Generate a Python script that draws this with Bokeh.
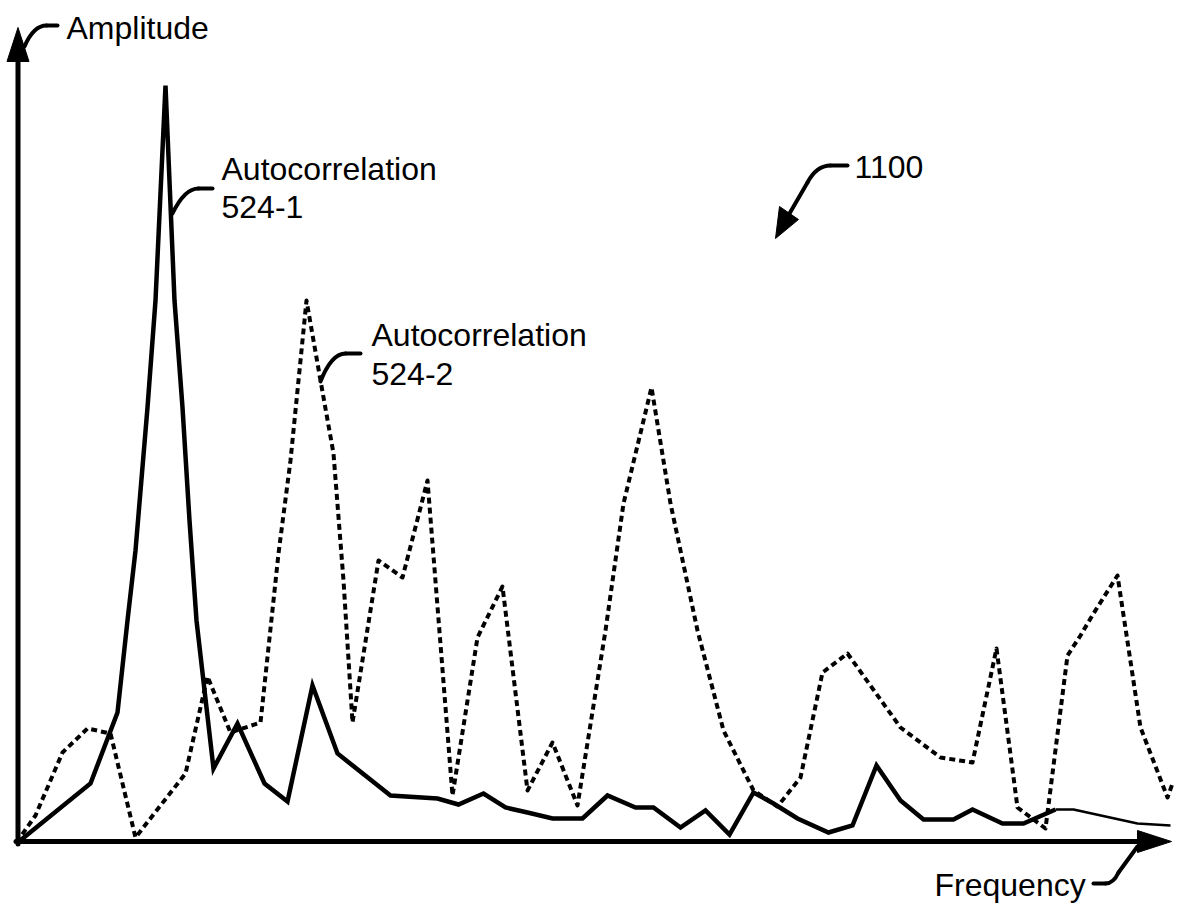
from bokeh.plotting import figure
from bokeh.models import Range1d, Label
from bokeh.embed import file_html
from bokeh.resources import INLINE

# ---- data (frequency index, amplitude) ----
freq_1 = [0, 74, 101, 111, 119, 131, 139, 149, 158, 166, 173, 180, 197, 221, 248, 271,
          296, 321, 374, 421, 442, 467, 489, 511, 536, 566, 591, 619, 637, 664, 689, 713,
          737, 757, 781, 812, 836, 860, 884, 907, 937, 956, 986, 1007, 1039, 1057, 1121, 1154]
amp_1 = [0, 60, 131, 223, 293, 436, 543, 758, 543, 436, 323, 223, 75, 120, 60, 42,
         158, 90, 48, 45, 39, 50, 36, 31, 25, 25, 48, 36, 36, 16, 33, 9,
         51, 40, 25, 11, 18, 78, 43, 24, 24, 34, 20, 20, 34, 34, 20, 18]

freq_2 = [0, 19, 46, 71, 94, 119, 169, 191, 214, 244, 262, 274, 290, 304, 317, 327,
          336, 362, 386, 411, 436, 461, 486, 511, 536, 561, 589, 607, 635, 654, 681, 707,
          737, 761, 784, 806, 831, 884, 924, 956, 980, 1001, 1029, 1051, 1064, 1077, 1101,
          1124, 1151, 1156]
amp_2 = [1, 28, 91, 115, 110, 6, 70, 167, 111, 121, 290, 383, 543, 463, 390, 263,
         121, 283, 266, 363, 48, 206, 257, 53, 101, 38, 213, 340, 456, 340, 213, 113,
         53, 37, 66, 171, 190, 116, 86, 81, 195, 36, 15, 188, 208, 230, 268,
         116, 46, 60]

labels = {
    "amp": "Amplitude",
    "freq": "Frequency",
    "ac1": ["Autocorrelation", "524-1"],
    "ac2": ["Autocorrelation", "524-2"],
    "fig": "1100",
}

W, H = 1181, 905
p = figure(width=W, height=H, output_backend="svg", toolbar_location=None,
           x_range=Range1d(-16, W - 16), y_range=Range1d(843 - H, 843),
           min_border=0, background_fill_color="white", border_fill_color="white")
p.axis.visible = False
p.grid.visible = False
p.outline_line_color = None


def S(x, y):
    """picture pixel position -> data coordinates (decorations only)"""
    return x - 16, 843 - y


def seg(a, b, w=4):
    (x0, y0), (x1, y1) = S(*a), S(*b)
    p.segment(x0=[x0], y0=[y0], x1=[x1], y1=[y1], line_color="black", line_width=w,
              line_cap="round")


def quad(a, c, b, w=4):
    (x0, y0), (cx, cy), (x1, y1) = S(*a), S(*c), S(*b)
    p.quadratic(x0=[x0], y0=[y0], x1=[x1], y1=[y1], cx=[cx], cy=[cy],
                line_color="black", line_width=w, line_cap="round")


def tri(pts):
    xs, ys = zip(*[S(*q) for q in pts])
    p.patch(list(xs), list(ys), fill_color="black", line_color="black", line_width=1)


# axes with arrowheads
seg((17.5, 843.5), (17.5, 58), 5)
seg((15.5, 841), (1140, 841), 5)
tri([(17.5, 27), (6.5, 61), (28.5, 61)])
tri([(1171, 841), (1137, 830), (1137, 852)])

# data lines
cut = freq_1.index(1039) + 1
p.line(freq_1[:cut], amp_1[:cut], line_color="black", line_width=4.5, line_join="miter")
p.line(freq_1[cut - 1:], amp_1[cut - 1:], line_color="black", line_width=2.5)
p.line(freq_2, amp_2, line_color="black", line_width=4, line_dash="6 4",
       line_join="round")

# leaders
quad((24, 46), (33, 25), (46, 25))
seg((46, 25), (57, 25))
quad((172, 213), (184, 188), (198, 188))
seg((198, 188), (212, 188))
quad((320, 381), (331, 353), (345, 353))
seg((345, 353), (360, 353))
seg((847, 165), (830, 165))
quad((830, 165), (816, 165), (807, 182))
seg((807, 182), (789, 213))
tri([(775, 238), (779, 206), (798, 219)])
seg((1093, 883), (1105, 883))
quad((1105, 883), (1113, 883), (1118, 872))
seg((1118, 872), (1137, 846))

FONT = "Liberation Sans"
DY = 9  # label baseline correction


def lab(text, x, y):
    X, Y = S(x, y - DY)
    p.add_layout(Label(x=X, y=Y, text=text, text_font=FONT, text_font_size="32px",
                       text_color="black", text_baseline="alphabetic", text_align="left"))


lab(labels["amp"], 66, 36)
lab(labels["ac1"][0], 221, 177)
lab(labels["ac1"][1], 221, 215)
lab(labels["ac2"][0], 371, 343)
lab(labels["ac2"][1], 371, 382)
lab(labels["fig"], 854, 175)
lab(labels["freq"], 934, 893)

open("out.html", "w").write(file_html(p, INLINE))
